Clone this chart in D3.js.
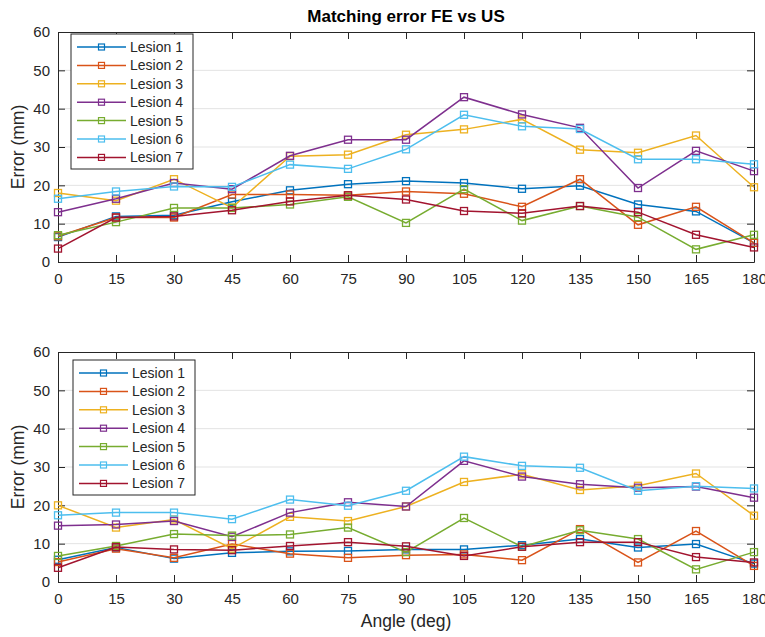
<!DOCTYPE html>
<html><head><meta charset="utf-8">
<script src="https://cdn.jsdelivr.net/npm/d3@7"></script>
<style>body{margin:0;background:#fff}svg{display:block}text{font-family:"Liberation Sans",Arial,Helvetica,sans-serif}</style>
</head><body><svg id="c" width="765" height="637"></svg>
<script>
const angles = [0,15,30,45,60,75,90,105,120,135,150,165,180];
const yTicks = [0,10,20,30,40,50,60];
const seriesNames = ["Lesion 1","Lesion 2","Lesion 3","Lesion 4","Lesion 5","Lesion 6","Lesion 7"];
const colors = ["#0072BD","#D95319","#EDB120","#7E2F8E","#77AC30","#4DBEEE","#A2142F"];
const topValues = [
  [6.5,11.9,12.2,15.7,18.7,20.3,21.1,20.6,19.1,19.9,15.0,13.2,5.0],
  [6.7,11.6,11.6,17.6,17.6,17.4,18.4,17.8,14.4,21.6,9.7,14.4,5.0],
  [18.0,16.0,21.6,14.2,27.6,28.0,33.2,34.6,37.2,29.3,28.5,33.0,19.5],
  [13.0,16.5,20.6,19.0,27.7,31.9,31.9,43.0,38.5,35.0,19.3,29.0,23.7],
  [7.0,10.4,14.1,14.1,15.0,17.0,10.2,19.0,10.8,14.6,11.7,3.3,7.1],
  [16.5,18.4,19.7,19.6,25.4,24.3,29.4,38.4,35.4,34.7,26.8,26.8,25.5],
  [3.5,11.6,11.9,13.5,15.8,17.4,16.3,13.3,12.7,14.6,13.0,7.1,3.8]
];
const bottomValues = [
  [5.8,9.0,6.1,7.6,8.0,8.1,8.5,8.5,9.6,11.2,9.0,9.9,4.8],
  [5.2,8.7,6.3,9.9,7.4,6.3,7.0,7.2,5.7,13.8,5.1,13.3,4.2],
  [20.0,14.2,16.3,8.7,17.0,15.9,19.7,26.1,28.1,24.0,25.1,28.3,17.3],
  [14.7,15.0,15.9,11.8,18.1,20.8,19.7,31.6,27.5,25.5,24.6,24.9,22.0],
  [6.8,9.4,12.5,12.1,12.4,14.2,7.8,16.7,9.2,13.5,11.2,3.3,7.8],
  [17.4,18.1,18.1,16.4,21.5,19.9,23.8,32.7,30.3,29.8,23.8,25.0,24.4],
  [3.7,9.1,8.5,8.3,9.4,10.4,9.3,6.8,9.2,10.4,10.4,6.5,5.1]
];
const title = "Matching error FE vs US";
const yLabel = "Error (mm)";
const xLabel = "Angle (deg)";

const svg = d3.select("#c");
const axisColor = "#262626";

function panel(values, top, bottom, legendX, legendY) {
  const x = d3.scaleLinear().domain([0,180]).range([58,754]);
  const y = d3.scaleLinear().domain([0,60]).range([bottom, top]);
  const g = svg.append("g");
  g.selectAll(".grid").data(yTicks.slice(1,-1)).join("line")
    .attr("x1",x(0)).attr("x2",x(180)).attr("y1",d=>y(d)).attr("y2",d=>y(d))
    .attr("stroke","#e3e3e3").attr("stroke-width",1);
  const xa = g.append("g").attr("transform",`translate(0,${bottom})`)
    .call(d3.axisBottom(x).tickValues(angles).tickSizeInner(-7).tickSizeOuter(0).tickPadding(11));
  const xt = g.append("g").attr("transform",`translate(0,${top})`)
    .call(d3.axisTop(x).tickValues(angles).tickSizeInner(-7).tickSizeOuter(0).tickFormat(""));
  const ya = g.append("g").attr("transform",`translate(${x(0)},0)`)
    .call(d3.axisLeft(y).tickValues(yTicks).tickSizeInner(-7).tickSizeOuter(0).tickPadding(8));
  const yr = g.append("g").attr("transform",`translate(${x(180)},0)`)
    .call(d3.axisRight(y).tickValues(yTicks).tickSizeInner(-7).tickSizeOuter(0).tickFormat(""));
  [xa,xt,ya,yr].forEach(a=>{
    a.selectAll("path").attr("stroke",axisColor).attr("stroke-width",1);
    a.selectAll("line").attr("stroke",axisColor).attr("stroke-width",1);
    a.selectAll("text").attr("fill",axisColor).style("font-size","15px");
  });
  const line = d3.line().x((d,i)=>x(angles[i])).y(d=>y(d));
  values.forEach((vals,si)=>{
    g.append("path").datum(vals).attr("d",line).attr("fill","none")
      .attr("stroke",colors[si]).attr("stroke-width",1.5);
    g.selectAll(null).data(vals).join("rect")
      .attr("x",(d,i)=>x(angles[i])-3.5).attr("y",d=>y(d)-3.5)
      .attr("width",7).attr("height",7).attr("fill","none")
      .attr("stroke",colors[si]).attr("stroke-width",1.3);
  });
  const lg = g.append("g").attr("transform",`translate(${legendX},${legendY})`);
  lg.append("rect").attr("x",0).attr("y",0).attr("width",122).attr("height",135)
    .attr("fill","#fff").attr("stroke",axisColor).attr("stroke-width",1);
  seriesNames.forEach((n,i)=>{
    const yy = 13 + i*18.4;
    lg.append("line").attr("x1",6).attr("x2",55).attr("y1",yy).attr("y2",yy)
      .attr("stroke",colors[i]).attr("stroke-width",1.5);
    lg.append("rect").attr("x",27.5).attr("y",yy-3).attr("width",6).attr("height",6)
      .attr("fill","none").attr("stroke",colors[i]).attr("stroke-width",1.2);
    lg.append("text").attr("x",59).attr("y",yy+5).text(n)
      .style("font-size","14px").attr("fill",axisColor);
  });
  svg.append("text").attr("transform",`translate(24,${(top+bottom)/2}) rotate(-90)`)
    .attr("text-anchor","middle").style("font-size","17.5px").attr("fill",axisColor).text(yLabel);
}

panel(topValues, 32, 262, 71, 34);
panel(bottomValues, 352, 582, 73, 360);

svg.append("text").attr("x",406).attr("y",22).attr("text-anchor","middle")
  .style("font-size","17px").style("font-weight","bold").attr("fill","#000").text(title);
svg.append("text").attr("x",406).attr("y",627).attr("text-anchor","middle")
  .style("font-size","17.5px").attr("fill",axisColor).text(xLabel);
</script></body></html>
